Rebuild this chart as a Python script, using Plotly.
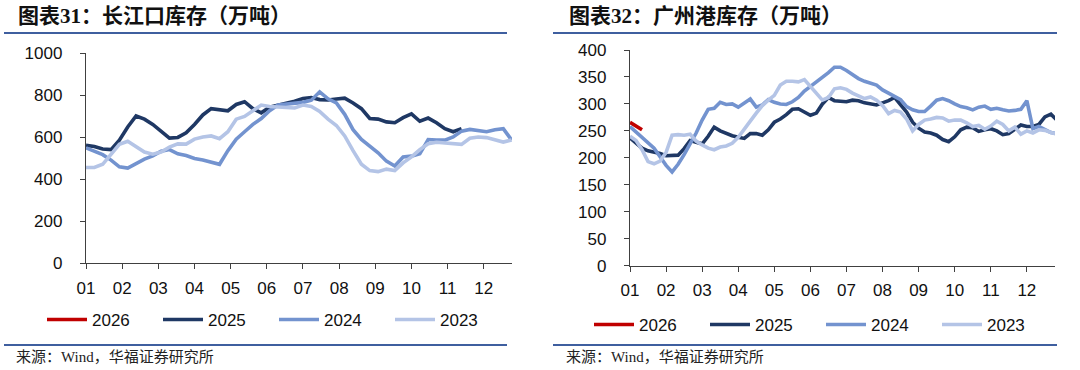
import plotly.graph_objects as go

# ---------------- data ----------------
MONTH_LABELS = ["01", "02", "03", "04", "05", "06", "07", "08", "09", "10", "11", "12"]
SERIES = ["2026", "2025", "2024", "2023"]
COLORS = {"2026": "#C00000", "2025": "#1F3864", "2024": "#7393CF", "2023": "#B4C4E6"}

# Left chart: 长江口库存 (weekly, x in month units: week k -> k*12/52)
cj_2026 = []
cj_2025 = [560, 555, 543, 540, 585, 648, 700, 685, 660, 630, 595, 598, 620, 660, 705, 735,
           728, 725, 755, 768, 735, 715, 742, 750, 758, 770, 783, 788, 778, 776, 781, 785,
           762, 735, 688, 685, 672, 668, 692, 710, 675, 690, 668, 640, 625, 640]
cj_2024 = [548, 530, 516, 490, 458, 452, 472, 495, 510, 532, 540, 520, 512, 498, 491, 480,
           470, 535, 590, 625, 660, 688, 725, 752, 757, 760, 765, 775, 815, 782, 762, 708,
           635, 588, 556, 525, 485, 462, 505, 509, 520, 588, 586, 585, 600, 628, 636, 630,
           625, 635, 640, 585]
cj_2023 = [455, 455, 470, 520, 565, 580, 555, 528, 518, 528, 552, 567, 566, 590, 600, 605,
           592, 625, 685, 698, 725, 752, 745, 742, 740, 738, 752, 745, 722, 685, 655, 605,
           535, 470, 440, 435, 447, 440, 477, 505, 540, 568, 575, 573, 568, 565, 594, 600,
           597, 588, 576, 586]

# Right chart: 广州港库存 (x in month units: point k -> k/6)
gz_2026 = [266, 259, 252]
gz_2025 = [237, 228, 218, 213, 211, 208, 204, 205, 205, 217, 232, 229, 226, 240, 257, 250,
           245, 241, 238, 236, 245, 245, 242, 252, 266, 272, 280, 290, 291, 285, 279, 283,
           300, 312, 306, 305, 304, 307, 306, 302, 300, 298, 302, 306, 312, 298, 285, 266,
           255, 248, 246, 242, 234, 230, 239, 252, 257, 256, 249, 252, 254, 250, 243, 245,
           253, 261, 258, 258, 262, 276, 281, 270]
gz_2024 = [258, 248, 238, 230, 218, 202, 186, 174, 188, 206, 225, 246, 270, 290, 292, 303,
           299, 300, 294, 302, 309, 294, 298, 308, 303, 300, 299, 304, 312, 324, 332, 341,
           350, 358, 368, 368, 362, 354, 347, 342, 338, 335, 326, 320, 313, 308, 295, 289,
           286, 286, 296, 307, 310, 306, 300, 295, 293, 289, 294, 296, 290, 292, 289, 287,
           288, 290, 306, 254, 258, 252, 247, 245]
gz_2023 = [240, 232, 215, 193, 189, 194, 210, 242, 243, 242, 244, 231, 224, 218, 215, 220,
           222, 227, 238, 252, 268, 283, 297, 307, 316, 335, 342, 342, 341, 345, 333, 320,
           307, 312, 328, 330, 327, 320, 315, 310, 313, 307, 297, 282, 288, 285, 272, 250,
           262, 270, 272, 275, 274, 268, 270, 270, 265, 258, 260, 253, 259, 268, 262, 250,
           257, 244, 250, 246, 252, 251, 247, 244]

TITLE_L = "图表31：长江口库存（万吨）"
TITLE_R = "图表32：广州港库存（万吨）"
SOURCE = "来源：Wind，华福证券研究所"

# ---------------- figure ----------------
W, H = 1080, 370
fig = go.Figure()

def wx(n):
    return [k * 12 / 52 for k in range(n)]

def dx(n):
    return [k / 6 for k in range(n)]

left = {"2026": cj_2026, "2025": cj_2025, "2024": cj_2024, "2023": cj_2023}
right = {"2026": gz_2026, "2025": gz_2025, "2024": gz_2024, "2023": gz_2023}

for s in SERIES:
    vals = left[s]
    fig.add_trace(go.Scatter(x=wx(len(vals)) if vals else [None], y=vals if vals else [None],
                             mode="lines", name=s,
                             line=dict(color=COLORS[s], width=3.6),
                             xaxis="x", yaxis="y", legend="legend"))
for s in SERIES:
    vals = right[s]
    fig.add_trace(go.Scatter(x=dx(len(vals)), y=vals, mode="lines", name=s,
                             line=dict(color=COLORS[s], width=3.6),
                             xaxis="x2", yaxis="y2", legend="legend2"))

tickfont = dict(family="Liberation Sans, Arial, sans-serif", size=17, color="#111111")
axis_common = dict(showgrid=False, zeroline=False, showline=True, linecolor="#404040",
                   linewidth=1.3, ticks="outside", ticklen=5, tickcolor="#404040",
                   tickwidth=1.3, tickfont=tickfont, fixedrange=True, automargin=False)

legfont = dict(family="Liberation Sans, Arial, sans-serif", size=17, color="#111111")
fig.update_layout(
    width=W, height=H,
    margin=dict(l=0, r=0, t=0, b=0, autoexpand=False),
    paper_bgcolor="white", plot_bgcolor="white",
    xaxis=dict(domain=[86 / W, 512 / W], range=[0, 11.78], tickvals=list(range(12)),
               ticktext=MONTH_LABELS, ticklabelstandoff=4, anchor="y", **axis_common),
    yaxis=dict(domain=[1 - 263 / H, 1 - 53 / H], range=[0, 1000], dtick=200,
               ticklabelstandoff=14, anchor="x", **axis_common),
    xaxis2=dict(domain=[630 / W, 1055 / W], range=[0, 11.78], tickvals=list(range(12)),
                ticktext=MONTH_LABELS, ticklabelstandoff=4, anchor="y2", **axis_common),
    yaxis2=dict(domain=[1 - 265.7 / H, 1 - 50 / H], range=[0, 400], dtick=50,
                ticklabelstandoff=14, anchor="x2", **axis_common),
    legend=dict(orientation="h", x=42 / W, y=1 - 320 / H, xanchor="left", yanchor="middle",
                font=legfont, entrywidth=61, entrywidthmode="pixels", itemwidth=40,
                bgcolor="rgba(0,0,0,0)", traceorder="normal"),
    legend2=dict(orientation="h", x=589 / W, y=1 - 325 / H, xanchor="left", yanchor="middle",
                 font=legfont, entrywidth=61, entrywidthmode="pixels", itemwidth=40,
                 bgcolor="rgba(0,0,0,0)", traceorder="normal"),
    showlegend=True,
)

title_font = dict(family="Liberation Serif, Noto Sans CJK SC, serif", size=21, color="#111111", weight="bold")
src_font = dict(family="Liberation Serif, Noto Sans CJK SC, serif", size=15, color="#222222")
fig.add_annotation(text=TITLE_L, xref="paper", yref="paper", x=16 / W, y=1 - 16 / H,
                   xanchor="left", yanchor="middle", showarrow=False, font=title_font)
fig.add_annotation(text=TITLE_R, xref="paper", yref="paper", x=567 / W, y=1 - 16 / H,
                   xanchor="left", yanchor="middle", showarrow=False, font=title_font)
fig.add_annotation(text=SOURCE, xref="paper", yref="paper", x=14 / W, y=1 - 357 / H,
                   xanchor="left", yanchor="middle", showarrow=False, font=src_font)
fig.add_annotation(text=SOURCE, xref="paper", yref="paper", x=564 / W, y=1 - 357 / H,
                   xanchor="left", yanchor="middle", showarrow=False, font=src_font)

rule = dict(color="#3F5F9F", width=2)
for (x0, x1) in [(4, 507), (553, 1057)]:
    for yy in (33, 345):
        fig.add_shape(type="line", xref="paper", yref="paper", x0=x0 / W, x1=x1 / W,
                      y0=1 - yy / H, y1=1 - yy / H, line=rule)

fig.write_html("out.html", config={"displayModeBar": False},
               post_script="document.body.style.margin='0';document.body.style.padding='0';")
